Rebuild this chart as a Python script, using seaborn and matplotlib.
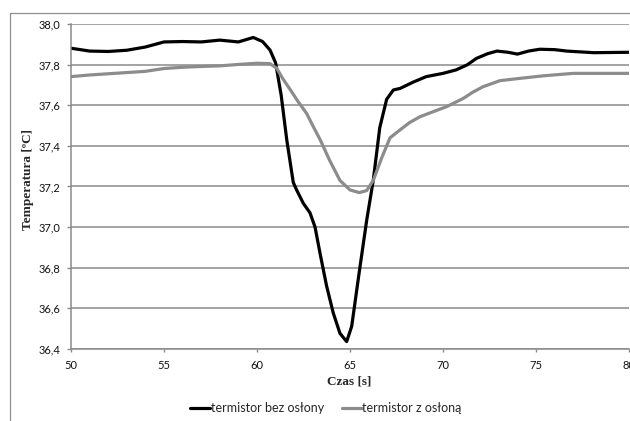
import numpy as np
import pandas as pd
import matplotlib
matplotlib.use("Agg")
import matplotlib.pyplot as plt
from matplotlib.lines import Line2D
import seaborn as sns

# ---- data ----
t_bez = [50, 51, 52, 53, 54, 55, 56, 57, 58, 59, 59.8, 60.3, 60.7, 61.0, 61.3, 61.6,
         61.95, 62.13, 62.49, 62.85, 63.12, 63.39, 63.74, 64.1, 64.46, 64.82, 65.09,
         65.5, 65.9, 66.25, 66.6, 66.97, 67.33, 67.7, 68.4, 69.1, 70.0, 70.7, 71.3,
         71.8, 72.4, 72.9, 73.5, 74.0, 74.6, 75.2, 76.0, 76.65, 78.1, 80]
temp_bez = [37.882, 37.868, 37.866, 37.872, 37.888, 37.913, 37.915, 37.913, 37.922,
            37.913, 37.935, 37.915, 37.873, 37.81, 37.65, 37.43, 37.22, 37.183, 37.117,
            37.07, 37.0, 36.87, 36.71, 36.576, 36.476, 36.435, 36.51, 36.78, 37.035,
            37.23, 37.49, 37.63, 37.676, 37.684, 37.715, 37.742, 37.758, 37.775, 37.80,
            37.832, 37.855, 37.868, 37.862, 37.853, 37.868, 37.877, 37.875, 37.868,
            37.86, 37.862]

t_z = [50, 51, 52, 53, 54, 55, 56, 57, 58, 59, 60, 60.7, 61.06, 61.4, 61.8, 62.2,
       62.67, 63.0, 63.4, 63.9, 64.46, 65.0, 65.5, 65.9, 66.25, 66.7, 67.15, 67.7,
       68.2, 68.76, 69.5, 70.2, 71.1, 71.6, 72.15, 73.06, 74.1, 75.4, 77.0, 80]
temp_z = [37.742, 37.75, 37.756, 37.762, 37.768, 37.782, 37.788, 37.792, 37.795,
          37.802, 37.808, 37.806, 37.783, 37.73, 37.676, 37.62, 37.56, 37.50, 37.43,
          37.33, 37.23, 37.183, 37.17, 37.18, 37.23, 37.34, 37.44, 37.48, 37.515,
          37.544, 37.57, 37.594, 37.635, 37.665, 37.692, 37.722, 37.733, 37.746,
          37.758, 37.758]

series_names = ["termistor bez osłony", "termistor z osłoną"]
x_ticks = [50, 55, 60, 65, 70, 75, 80]
y_ticks = [36.4, 36.6, 36.8, 37.0, 37.2, 37.4, 37.6, 37.8, 38.0]
y_tick_labels = ["36,4", "36,6", "36,8", "37,0", "37,2", "37,4", "37,6", "37,8", "38,0"]
x_label = "Czas [s]"
y_label = "Temperatura [ºC]"

df = pd.concat([
    pd.DataFrame({"Czas": t_bez, "Temp": temp_bez, "seria": series_names[0]}),
    pd.DataFrame({"Czas": t_z, "Temp": temp_z, "seria": series_names[1]}),
], ignore_index=True)

sns.set_theme(style="white")
plt.rcParams["font.family"] = ["Lato", "DejaVu Sans"]

W, H = 630, 421
fig = plt.figure(figsize=(W / 100, H / 100), dpi=100)
ax = fig.add_axes([71 / W, 1 - 348.7 / H, (629 - 71) / W, (348.7 - 24.3) / H])

palette = {series_names[0]: "#000000", series_names[1]: "#8c8c8c"}
sns.lineplot(data=df, x="Czas", y="Temp", hue="seria", palette=palette,
             linewidth=2.3, ax=ax, legend=False, sort=False, estimator=None,
             solid_joinstyle="round", solid_capstyle="round")

ax.set_xlim(50, 80)
ax.set_ylim(36.4, 38.0)
ax.set_xticks(x_ticks)
ax.set_xticklabels([str(v) for v in x_ticks])
ax.set_yticks(y_ticks)
ax.set_yticklabels(y_tick_labels)
ax.set_xlabel("")
ax.set_ylabel("")

gcol = "#8a8a8a"
ax.yaxis.grid(True, color=gcol, linewidth=1.1)
ax.xaxis.grid(False)
ax.set_axisbelow(True)
for s in ["top", "right"]:
    ax.spines[s].set_visible(False)
for s in ["left", "bottom"]:
    ax.spines[s].set_visible(True)
    ax.spines[s].set_color(gcol)
    ax.spines[s].set_linewidth(1.1)

ax.tick_params(axis="y", direction="out", length=3.2, width=1.0, color=gcol,
               pad=4.5, labelsize=8, labelcolor="#111111", left=True)
ax.tick_params(axis="x", direction="out", length=2.5, width=1.0, color=gcol,
               pad=5.5, labelsize=8, labelcolor="#111111", bottom=True)

fig.text(349 / W, 1 - 381 / H, x_label, ha="center", va="center",
         fontsize=9.5, fontweight="bold", family=["Liberation Serif", "DejaVu Serif"])
fig.text(28 / W, 1 - 180 / H, y_label, ha="center", va="center", rotation=90,
         fontsize=9.5, fontweight="bold", family=["Liberation Serif", "DejaVu Serif"])

# chart-area frame (cropped at right/bottom)
fx = 9.5 / W
fy = 1 - 13 / H
fig.add_artist(Line2D([fx, fx], [0, fy], transform=fig.transFigure, color="#8f8f8f", linewidth=0.9))
fig.add_artist(Line2D([fx, 1], [fy, fy], transform=fig.transFigure, color="#8f8f8f", linewidth=0.9))

handles = [Line2D([], [], color=palette[n], linewidth=2.3) for n in series_names]
fig.legend(handles, series_names, loc="center", bbox_to_anchor=(326 / W, 1 - 408 / H),
           ncol=2, frameon=False, fontsize=9, handlelength=1.6, handletextpad=0.05,
           columnspacing=1.4, borderpad=0)

fig.savefig("out.png", dpi=100)
